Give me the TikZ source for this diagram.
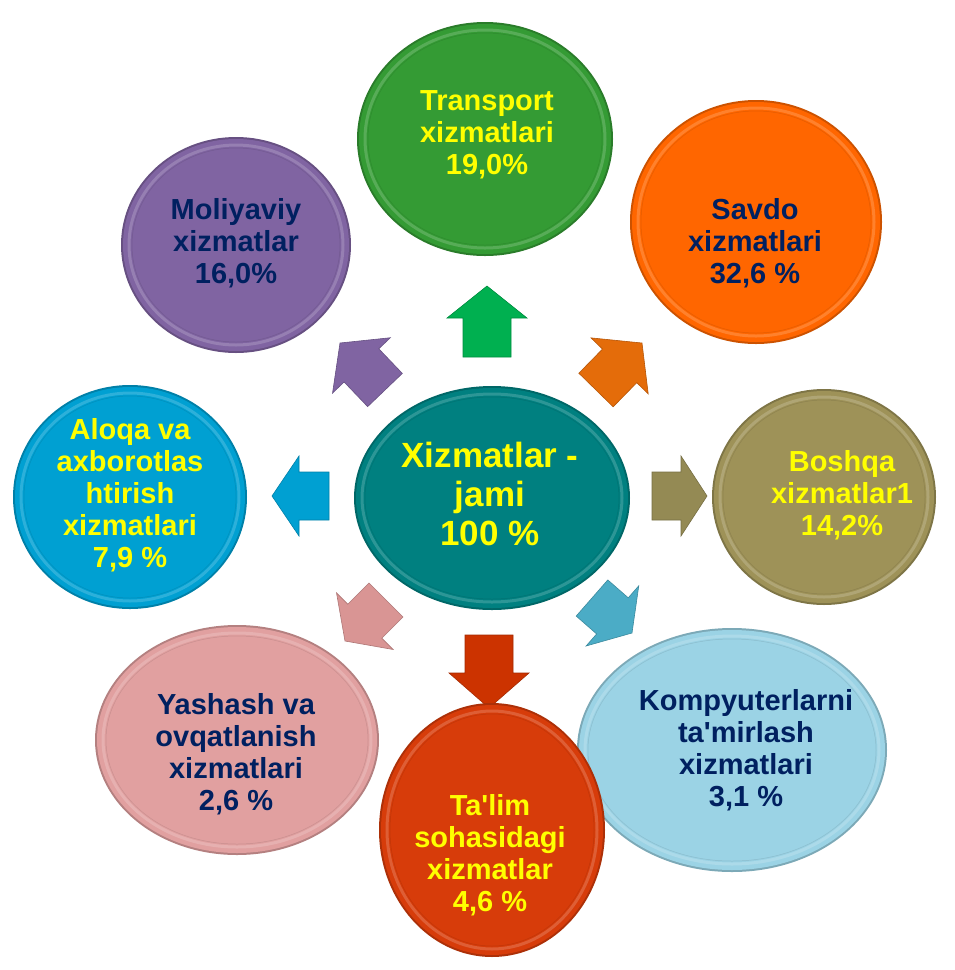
\documentclass[tikz,border=0pt]{standalone}
\usepackage{fontspec}
\setmainfont{Liberation Sans}
\usetikzlibrary{calc}
\definecolor{cTeal}{RGB}{0,128,128}
\definecolor{cGreen}{RGB}{52,155,52}
\definecolor{cOrange}{RGB}{255,102,0}
\definecolor{cOlive}{RGB}{158,146,88}
\definecolor{cLBlue}{RGB}{155,211,229}
\definecolor{cRed}{RGB}{215,60,10}
\definecolor{cPink}{RGB}{225,160,160}
\definecolor{cBlue}{RGB}{0,160,210}
\definecolor{cPurple}{RGB}{128,100,162}
\definecolor{aGreen}{RGB}{0,176,80}
\definecolor{aOrange}{RGB}{228,108,10}
\definecolor{aOlive}{RGB}{148,138,84}
\definecolor{aCyan}{RGB}{75,172,198}
\definecolor{aRed}{RGB}{204,51,0}
\definecolor{aPink}{RGB}{217,149,148}
\definecolor{aBlue}{RGB}{0,160,210}
\definecolor{aPurple}{RGB}{128,100,162}
\definecolor{tYellow}{RGB}{255,255,0}
\definecolor{tNavy}{RGB}{0,32,96}
\tikzset{
  lbl/.style={align=center, inner sep=0pt, font=\bfseries\fontsize{29}{32}\selectfont},
  biglbl/.style={align=center, inner sep=0pt, font=\bfseries\fontsize{35}{39}\selectfont},
}
\newcommand\bubble[6]{%
  \fill[#6!80!black] (#2,#3) ellipse [x radius=#4, y radius=#5];
  \fill[#6] (#2,#3) ellipse [x radius=#4-2, y radius=#5-2];
  \draw[#6!65!white, line width=3pt, opacity=0.5] (#2,#3) ellipse [x radius=#4-8, y radius=#5-8];
  \draw[#6!85!black, line width=1pt, opacity=0.5] (#2,#3) ellipse [x radius=#4-11, y radius=#5-11];
  \fill[#6] (#2,#3) ellipse [x radius=#4-11.5, y radius=#5-11.5];
  \coordinate (#1) at (#2,#3);
}
\newcommand\barrow[6]{%
  \coordinate (T) at (#1,#2);
  \coordinate (P) at (#3,#4);
  \coordinate (H) at ($(P)!#5pt!(T)$);
  \filldraw[fill=#6, draw=#6!80!black, line width=0.6pt, line join=miter]
    ($(T)!24pt!90:(P)$) -- ($(H)!24pt!-90:(T)$) -- ($(H)!40pt!-90:(T)$) -- (P)
    -- ($(H)!40pt!90:(T)$) -- ($(H)!24pt!90:(T)$) -- ($(T)!24pt!-90:(P)$) -- cycle;
}
\begin{document}
\begin{tikzpicture}[x=1pt,y=-1pt]
\useasboundingbox (0,0) rectangle (955,970);
\fill[white] (0,0) rectangle (955,970);

% arrows
\barrow{487}{357}{487}{286}{32}{aGreen}
\barrow{596}{390}{642}{343}{32}{aOrange}
\barrow{652}{496}{707}{496}{26}{aOlive}
\barrow{592}{598}{632}{633}{26}{aCyan}
\barrow{489}{635}{489}{708}{35}{aRed}
\barrow{386}{600}{345}{641}{28}{aPink}
\barrow{329}{496}{272}{496}{27}{aBlue}
\barrow{385}{390}{340}{343}{31}{aPurple}

% bubbles
\bubble{eT}{485}{139}{128}{117}{cGreen}
\bubble{eS}{756}{222}{126}{122}{cOrange}
\bubble{eM}{236}{245}{115}{108}{cPurple}
\bubble{eB}{824}{497}{112}{108}{cOlive}
\bubble{eA}{130}{497}{117}{112}{cBlue}
\bubble{eC}{492}{498}{138}{112}{cTeal}
\bubble{eK}{732}{750}{155}{122}{cLBlue}
\bubble{eY}{237}{740}{142}{115}{cPink}
\bubble{eL}{492}{830}{113}{127}{cRed}

% labels
\node[biglbl, text=tYellow] (nC) at (490,494) {Xizmatlar -\\jami\\100 \%};
\node[lbl, text=tYellow] (nT) at (487,135) {Transport\\xizmatlari\\19,0\%};
\node[lbl, text=tNavy] (nS) at (755,243) {Savdo\\xizmatlari\\32,6 \%};
\node[lbl, text=tNavy] (nM) at (236,243) {Moliyaviy\\xizmatlar\\16,0\%};
\node[lbl, text=tYellow] (nB) at (842,495) {Boshqa\\xizmatlar1\\14,2\%};
\node[lbl, text=tYellow] (nA) at (130,495) {Aloqa va\\axborotlas\\htirish\\xizmatlari\\7,9 \%};
\node[lbl, text=tNavy] (nK) at (746,750) {Kompyuterlarni\\ta\textquotesingle mirlash\\xizmatlari\\3,1 \%};
\node[lbl, text=tNavy] (nY) at (236,754) {Yashash va\\ovqatlanish\\xizmatlari\\2,6 \%};
\node[lbl, text=tYellow] (nL) at (490,855) {Ta\textquotesingle lim\\sohasidagi\\xizmatlar\\4,6 \%};
\end{tikzpicture}
\end{document}
